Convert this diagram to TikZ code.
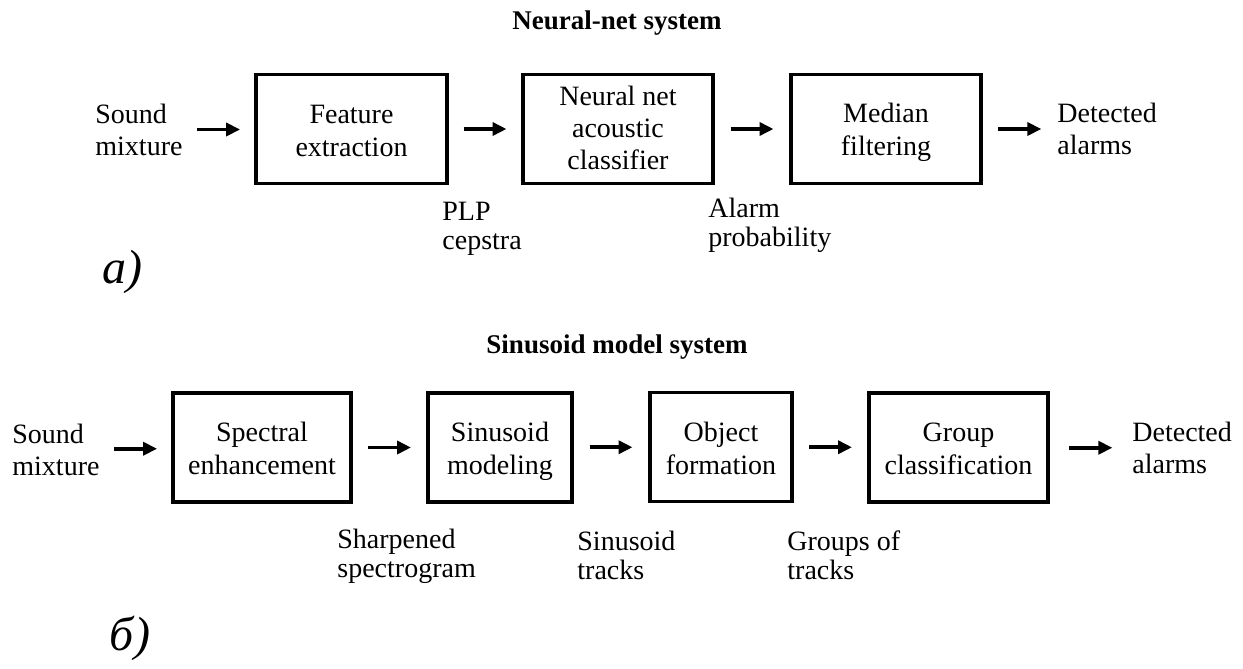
\documentclass[tikz,border=0pt]{standalone}
\usepackage{fontspec}
\setmainfont{Liberation Serif}
\usetikzlibrary{arrows.meta,calc}
% line struts used inside the boxes, so every line sits on the same grid
\newcommand\bs{\rule[-3pt]{0pt}{16.5pt}}
\newcommand\bst{\rule[-4pt]{0pt}{16pt}}
\tikzset{
  blk/.style={draw, line width=1.7pt, align=center, inner sep=0pt,
    minimum height=54.5pt, font=\fontsize{14}{16.5}\selectfont},
  txt/.style={align=left, anchor=west, inner sep=0pt, font=\fontsize{14}{16}\selectfont},
  lbl/.style={align=left, anchor=west, inner sep=0pt, font=\fontsize{14}{14.5}\selectfont},
  ttl/.style={inner sep=0pt, font=\fontsize{13.5}{16}\selectfont\bfseries},
  tag/.style={inner sep=0pt, font=\fontsize{24}{28}\selectfont\itshape},
  arr/.style={line width=1.8pt, -{Triangle[length=7pt,width=6.5pt]}},
}
% short arrow centred in the gap between two nodes
\newcommand\flowarrow[2]{%
  \draw[arr] ($(#1.east)!0.5!(#2.west)+(-21.5,0)$) -- ($(#1.east)!0.5!(#2.west)+(21.5,0)$);}
\begin{document}
\begin{tikzpicture}[x=0.5pt,y=-0.5pt]
\useasboundingbox (0,0) rectangle (1243,669);

% ---------- a) neural-net system ----------
\node[ttl] (t1) at (617,23) {Neural-net system};

\node[txt] (in1) at (95,130) {Sound\\mixture};
\node[blk, minimum width=95.5pt] (fe) at (351.5,129) {\bs Feature\\\bs extraction};
\node[blk, minimum width=95pt, font=\fontsize{14}{16}\selectfont] (nn) at (618,129)
  {\bst Neural net\\\bst acoustic\\\bst classifier};
\node[blk, minimum width=95pt]   (mf) at (886,129) {\bs Median\\\bs filtering};
\node[txt] (out1) at (1057,129) {Detected\\alarms};

\flowarrow{in1}{fe}
\flowarrow{fe}{nn}
\flowarrow{nn}{mf}
\flowarrow{mf}{out1}

\node[lbl] (l1) at (442,229) {PLP\\cepstra};
\node[lbl] (l2) at (708,225) {Alarm\\probability};

\node[tag] (ta) at (122,272) {а)};

% ---------- б) sinusoid model system ----------
\node[ttl] (t2) at (617,347) {Sinusoid model system};

\node[txt] (in2) at (12,450) {Sound\\mixture};
\node[blk, minimum width=89pt]   (se) at (262,447.5) {\bs Spectral\\\bs enhancement};
\node[blk, minimum width=72pt]   (sm) at (500,447.5) {\bs Sinusoid\\\bs modeling};
\node[blk, minimum width=71pt]   (of) at (721,447) {\bs Object\\\bs formation};
\node[blk, minimum width=89.5pt] (gc) at (958.5,447.5) {\bs Group\\\bs classification};
\node[txt] (out2) at (1132,448) {Detected\\alarms};

\flowarrow{in2}{se}
\flowarrow{se}{sm}
\flowarrow{sm}{of}
\flowarrow{of}{gc}
\flowarrow{gc}{out2}

\node[lbl] (l3) at (337,556) {Sharpened\\spectrogram};
\node[lbl] (l4) at (577,555) {Sinusoid\\tracks};
\node[lbl] (l5) at (787,555) {Groups of\\tracks};

\node[tag] (tb) at (130,638) {б)};
\end{tikzpicture}
\end{document}
